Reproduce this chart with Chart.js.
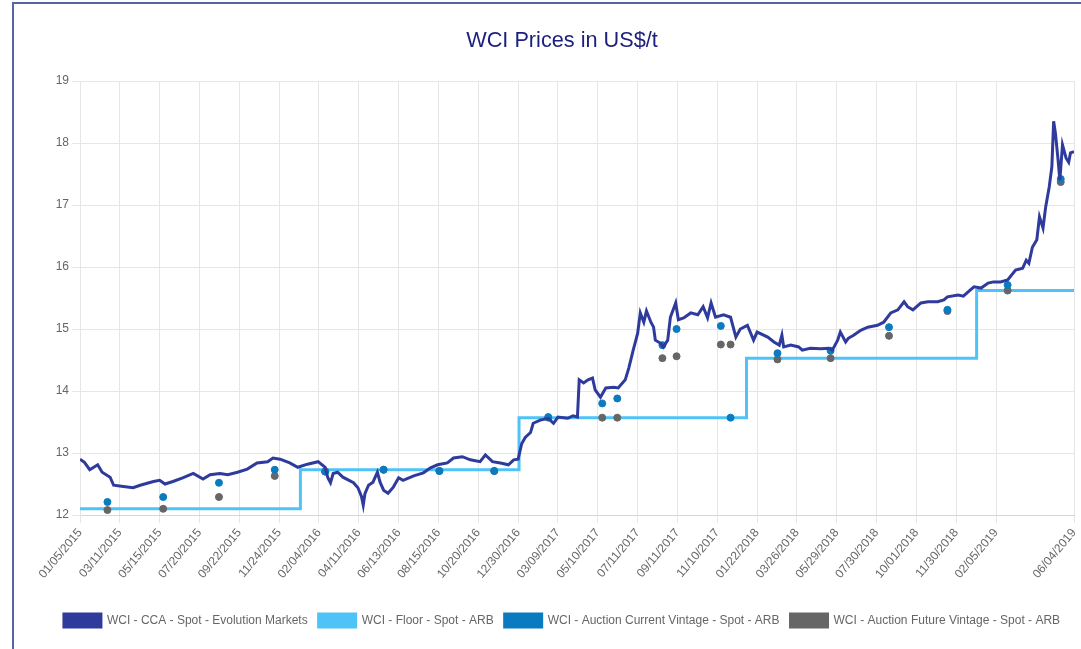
<!DOCTYPE html>
<html>
<head>
<meta charset="utf-8">
<title>WCI Prices</title>
<script src="https://cdn.jsdelivr.net/npm/chart.js@4.4.1/dist/chart.umd.min.js"></script>
<style>
  html, body { margin: 0; padding: 0; background: #fff; overflow: hidden; }
  #wrap { position: relative; width: 1081px; height: 649px; }
  #frame { position: absolute; left: 12px; top: 2px; width: 1200px; height: 800px;
           border-left: 2px solid #5566a0; border-top: 2px solid #5566a0; pointer-events: none; }
</style>
</head>
<body>
<div id="wrap">
  <canvas id="wciChart" width="1081" height="649"></canvas>
  <div id="frame"></div>
</div>
<script>
// x is a trading-day index, one tick label every 45 trading days
const tickDays = [0, 45, 90, 135, 180, 225, 270, 315, 360, 405, 450, 495, 540, 585, 630, 675,
                  720, 765, 810, 855, 900, 945, 990, 1035, 1123];
const tickLabels = ['01/05/2015', '03/11/2015', '05/15/2015', '07/20/2015', '09/22/2015', '11/24/2015',
                    '02/04/2016', '04/11/2016', '06/13/2016', '08/15/2016', '10/20/2016', '12/30/2016',
                    '03/09/2017', '05/10/2017', '07/11/2017', '09/11/2017', '11/10/2017', '01/22/2018',
                    '03/26/2018', '05/29/2018', '07/30/2018', '10/01/2018', '11/30/2018', '02/05/2019',
                    '06/04/2019'];

// WCI - CCA - Spot - Evolution Markets
const ccaDays = [0, 5, 11, 20, 25, 34, 38, 49, 60, 68, 83, 90, 96, 105, 116, 128, 139, 147, 158, 167,
  178, 189, 200, 212, 218, 226, 237, 246, 257, 269, 277, 280, 283, 286, 291, 297, 309, 314, 318, 320,
  322, 326, 331, 336, 339, 343, 348, 354, 360, 365, 377, 388, 396, 404, 415, 422, 432, 441, 452, 458,
  466, 475, 484, 490, 495, 499, 503, 509, 512, 520, 529, 535, 540, 551, 557, 562, 564, 569, 574, 579,
  582, 588, 594, 603, 608, 616, 620, 625, 630, 633, 637, 640, 645, 648, 650, 656, 659, 664, 667, 673,
  676, 682, 690, 698, 704, 709, 713, 718, 727, 735, 741, 746, 754, 761, 765, 777, 784, 790, 793, 795,
  803, 812, 816, 825, 837, 846, 850, 856, 859, 865, 868, 874, 882, 890, 901, 908, 916, 924, 931, 935,
  941, 950, 958, 969, 976, 980, 992, 998, 1006, 1010, 1018, 1026, 1032, 1040, 1048, 1057, 1065, 1069,
  1072, 1076, 1081, 1084, 1088, 1091, 1095, 1098, 1100, 1102, 1105, 1107, 1110, 1114, 1117, 1119, 1123];
const ccaPrices = [12.90, 12.85, 12.73, 12.81, 12.69, 12.61, 12.48, 12.46, 12.44, 12.48, 12.54, 12.56,
  12.50, 12.54, 12.60, 12.67, 12.58, 12.65, 12.67, 12.65, 12.69, 12.74, 12.84, 12.86, 12.92, 12.90,
  12.84, 12.77, 12.82, 12.86, 12.77, 12.60, 12.52, 12.67, 12.69, 12.61, 12.52, 12.44, 12.30, 12.16,
  12.35, 12.48, 12.53, 12.69, 12.53, 12.40, 12.35, 12.45, 12.60, 12.56, 12.63, 12.68, 12.76, 12.81,
  12.84, 12.92, 12.94, 12.89, 12.86, 12.97, 12.86, 12.84, 12.81, 12.89, 12.90, 13.15, 13.25, 13.33,
  13.48, 13.53, 13.56, 13.48, 13.58, 13.56, 13.60, 13.58, 14.18, 14.13, 14.18, 14.21, 14.02, 13.90,
  14.05, 14.06, 14.05, 14.18, 14.37, 14.66, 14.93, 15.26, 15.11, 15.29, 15.11, 15.03, 14.82, 14.77,
  14.71, 14.82, 15.19, 15.42, 15.15, 15.18, 15.26, 15.23, 15.36, 15.18, 15.42, 15.19, 15.23, 15.19,
  14.87, 15.00, 15.06, 14.82, 14.95, 14.87, 14.79, 14.74, 14.90, 14.71, 14.74, 14.71, 14.66, 14.69,
  14.68, 14.69, 14.66, 14.82, 14.95, 14.79, 14.85, 14.90, 14.98, 15.03, 15.06, 15.11, 15.26, 15.31,
  15.44, 15.36, 15.31, 15.42, 15.44, 15.44, 15.47, 15.52, 15.55, 15.53, 15.63, 15.68, 15.66, 15.74,
  15.76, 15.76, 15.79, 15.95, 15.98, 16.11, 16.06, 16.32, 16.44, 16.81, 16.63, 16.97, 17.29, 17.62,
  18.35, 18.16, 17.73, 17.40, 17.97, 17.76, 17.69, 17.84, 17.86];

// WCI - Floor - Spot - ARB (steps up at each new year)
const floorDays = [0, 249, 496, 753, 1013, 1123];
const floorPrices = [12.10, 12.73, 13.57, 14.53, 15.62, 15.62];

// auction settlement prices
const auctionDays = [31, 94, 157, 220, 277, 343, 406, 468, 529, 590, 607, 658, 674, 724, 735, 788,
                     848, 914, 980, 1048, 1108];
const currentVintage = [12.21, 12.29, 12.52, 12.73, 12.70, 12.73, 12.71, 12.71, 13.58, 13.80, 13.88,
                        14.74, 15.00, 15.05, 13.57, 14.61, 14.65, 15.03, 15.31, 15.71, 17.42];
const futureVintage = [12.08, 12.10, 12.29, 12.63, 12.70, 12.73, 12.71, 12.71, 13.57, 13.57, 13.57,
                       14.53, 14.56, 14.75, 14.75, 14.51, 14.53, 14.89, 15.29, 15.62, 17.37];

function toPoints(xs, ys) {
    return xs.map((x, i) => ({ x: x, y: ys[i] }));
}

Chart.defaults.font.family = "'Liberation Sans', Arial, sans-serif";
Chart.defaults.color = '#666';

const ctx = document.getElementById('wciChart').getContext('2d');
const wciChart = new Chart(ctx, {
    type: 'line',
    data: {
        datasets: [{
            label: 'WCI - CCA - Spot - Evolution Markets',
            data: toPoints(ccaDays, ccaPrices),
            borderColor: '#2e3b9c',
            backgroundColor: '#2e3b9c',
            borderWidth: 3,
            pointRadius: 0,
            tension: 0,
            order: 0
        }, {
            label: 'WCI - Floor - Spot - ARB',
            data: toPoints(floorDays, floorPrices),
            borderColor: '#4fc3f7',
            backgroundColor: '#4fc3f7',
            borderWidth: 3,
            pointRadius: 0,
            stepped: true,
            order: 3
        }, {
            label: 'WCI - Auction Current Vintage - Spot - ARB',
            data: toPoints(auctionDays, currentVintage),
            borderColor: '#0b7bc0',
            backgroundColor: '#0b7bc0',
            showLine: false,
            pointRadius: 3.5,
            order: 1
        }, {
            label: 'WCI - Auction Future Vintage - Spot - ARB',
            data: toPoints(auctionDays, futureVintage),
            borderColor: '#666666',
            backgroundColor: '#666666',
            showLine: false,
            pointRadius: 3.5,
            order: 2
        }]
    },
    options: {
        responsive: false,
        animation: false,
        layout: { padding: { left: 50, right: 7, top: 2, bottom: 12 } },
        plugins: {
            title: {
                display: true,
                text: 'WCI Prices in US$/t',
                color: '#1c1f7c',
                font: { size: 21.7, weight: 'normal' },
                padding: { top: 26, bottom: 27 }
            },
            legend: {
                position: 'bottom',
                labels: {
                    boxWidth: 37,
                    boxHeight: 13,
                    padding: 11,
                    color: '#666',
                    font: { size: 12 },
                    sort: (a, b) => a.datasetIndex - b.datasetIndex
                }
            },
            tooltip: { enabled: false }
        },
        scales: {
            x: {
                type: 'linear',
                min: 0,
                max: 1123,
                afterBuildTicks: scale => {
                    scale.ticks = tickDays.map(v => ({ value: v }));
                },
                afterFit: scale => {
                    scale.height = 88;
                    scale.paddingLeft = 0;
                    scale.paddingRight = 0;
                },
                ticks: {
                    autoSkip: false,
                    minRotation: 50,
                    maxRotation: 50,
                    font: { size: 12 },
                    color: '#666',
                    callback: value => tickLabels[tickDays.indexOf(value)]
                },
                grid: { color: '#e6e6e6' },
                border: { color: '#d6d6d6' }
            },
            y: {
                min: 12,
                max: 19,
                afterFit: scale => { scale.width = 30; },
                ticks: { stepSize: 1, font: { size: 12 }, color: '#666' },
                grid: { color: '#e6e6e6' },
                border: { color: '#e6e6e6' }
            }
        }
    }
});
</script>
</body>
</html>
